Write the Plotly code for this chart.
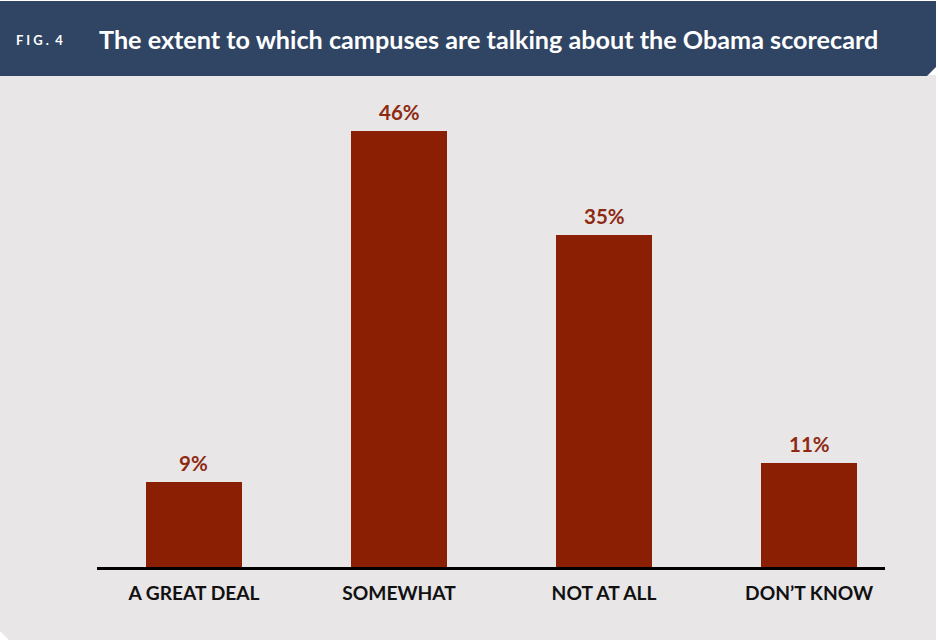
import plotly.graph_objects as go

# Survey responses: how much campuses are talking about the Obama scorecard
categories = ["A GREAT DEAL", "SOMEWHAT", "NOT AT ALL", "DON\u2019T KNOW"]
shares = [9, 46, 35, 11]

fig_label = "F I G .  4"
title_text = "The extent to which campuses are talking about the Obama scorecard"

W, H = 938, 640
ML, MR, MT, MB = 97, 53, 100, 73
PW, PH = W - ML - MR, H - MT - MB


def px(x):
    return (x - ML) / PW


def py(y):
    return (H - MB - y) / PH


NAVY = "#2f4563"
PANEL = "#e8e6e7"
BAR = "#8a1f03"
LABEL_RED = "#8e2a12"

fig = go.Figure(
    go.Bar(
        x=categories,
        y=shares,
        width=0.468,
        marker=dict(color=BAR, line=dict(width=0)),
        hoverinfo="skip",
    )
)

# value labels sit just above each bar
value_labels = [
    dict(x=c, y=v, xref="x", yref="y", text=f"{v}%", showarrow=False,
         yanchor="bottom", yshift=5,
         font=dict(family="Lato", size=20.5, color=LABEL_RED, weight="bold"))
    for c, v in zip(categories, shares)
]

# panel background with a clipped lower-left corner
panel_path = (
    f"M {px(0)},{py(75)} L {px(936)},{py(75)} L {px(936)},{py(640)} "
    f"L {px(9)},{py(640)} L {px(0)},{py(631)} Z"
)
# header band with a clipped lower-right corner
header_path = (
    f"M {px(0)},{py(1)} L {px(936)},{py(1)} L {px(936)},{py(67)} "
    f"L {px(927)},{py(76)} L {px(0)},{py(76)} Z"
)

fig.update_layout(
    width=W,
    height=H,
    margin=dict(l=ML, r=MR, t=MT, b=MB),
    paper_bgcolor="white",
    plot_bgcolor="rgba(0,0,0,0)",
    showlegend=False,
    bargap=0,
    shapes=[
        dict(type="path", xref="paper", yref="paper", path=panel_path,
             fillcolor=PANEL, line=dict(width=0), layer="below"),
        dict(type="path", xref="paper", yref="paper", path=header_path,
             fillcolor=NAVY, line=dict(width=0), layer="below"),
    ],
    annotations=[
        dict(text=fig_label, xref="paper", yref="paper", x=px(14), y=py(40),
             xanchor="left", yanchor="middle", showarrow=False,
             font=dict(family="Lato", size=13, color="white", weight="bold")),
        dict(text=title_text, xref="paper", yref="paper", x=px(97), y=py(39),
             xanchor="left", yanchor="middle", showarrow=False,
             font=dict(family="Lato", size=25.2, color="white", weight="bold")),
    ] + value_labels,
    xaxis=dict(
        type="category",
        range=[-0.473, 3.37],
        showline=True,
        linecolor="black",
        linewidth=2.5,
        showgrid=False,
        zeroline=False,
        ticks="",
        ticklabelstandoff=7,
        tickfont=dict(family="Lato", size=19.2, color="#111111", weight="bold"),
        fixedrange=True,
    ),
    yaxis=dict(
        range=[0, PH / 9.478],
        visible=False,
        showgrid=False,
        zeroline=False,
        fixedrange=True,
    ),
)

fig.write_html("out.html")
